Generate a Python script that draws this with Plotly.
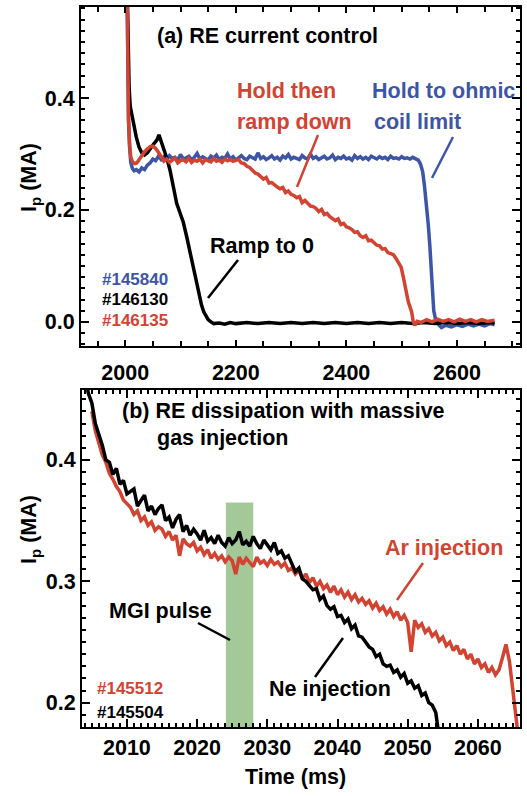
import plotly.graph_objects as go

# ---------------- data: panel (a) RE current control ----------------
# shot 145840 (blue): hold to ohmic coil limit
t_145840 = ([2003, 2004.5, 2006, 2008, 2010, 2013, 2016, 2020, 2025, 2030, 2035, 2040, 2045,
             2050, 2055, 2060, 2065]
            + [2070 + 5 * i for i in range(92)]
            + [2530, 2534, 2538, 2541, 2545, 2548, 2551, 2554, 2556, 2558, 2561, 2566, 2572,
               2580, 2590, 2600, 2610, 2620, 2630, 2640, 2650, 2660, 2668])
ip_145840 = ([0.62, 0.45, 0.36, 0.31, 0.285, 0.274, 0.270, 0.272, 0.268, 0.275, 0.272, 0.280,
              0.284, 0.291, 0.288, 0.296, 0.290]
             + [0.295, 0.290, 0.297, 0.292, 0.294, 0.289, 0.299, 0.291, 0.293, 0.296,
                0.290, 0.294, 0.301, 0.291, 0.295, 0.292, 0.289, 0.296, 0.293, 0.298,
                0.290, 0.294, 0.292, 0.300, 0.291, 0.295, 0.289, 0.293, 0.297, 0.292,
                0.290, 0.296, 0.294, 0.291, 0.302, 0.292, 0.295, 0.290, 0.293, 0.297,
                0.291, 0.294, 0.289, 0.296, 0.293, 0.299, 0.291, 0.294, 0.292, 0.290,
                0.297, 0.293, 0.291, 0.300, 0.292, 0.295, 0.290, 0.294, 0.296, 0.291,
                0.293, 0.298, 0.290, 0.294, 0.292, 0.296, 0.291, 0.293, 0.289, 0.297,
                0.292, 0.295, 0.291, 0.294, 0.290, 0.296, 0.293, 0.291, 0.295, 0.292,
                0.294, 0.290, 0.296, 0.292, 0.293, 0.291, 0.295, 0.292, 0.293, 0.291,
                0.294, 0.292]
             + [0.289, 0.282, 0.268, 0.245, 0.210, 0.175, 0.135, 0.090, 0.050, 0.020, 0.006,
                -0.004, -0.010, -0.006, -0.009, -0.005, -0.008, -0.004, -0.007, -0.004,
                -0.007, -0.003, -0.005])

# shot 146130 (black): ramp to 0
t_146130 = [2003, 2005, 2007, 2009, 2012, 2015, 2020, 2025, 2030, 2035, 2040, 2045, 2050, 2055,
            2058, 2061, 2064, 2068, 2072, 2076, 2081, 2087, 2093, 2099, 2105, 2111, 2117, 2123,
            2129, 2134, 2138, 2142, 2146, 2150, 2155, 2160, 2170, 2180, 2190, 2200, 2220, 2240,
            2260, 2280, 2300, 2320, 2340, 2360, 2380, 2400, 2420, 2440, 2460, 2480, 2500, 2520,
            2540, 2560, 2580, 2600, 2620, 2640, 2660, 2668]
ip_146130 = [0.62, 0.48, 0.42, 0.385, 0.365, 0.355, 0.330, 0.312, 0.302, 0.298, 0.302, 0.310,
             0.316, 0.322, 0.326, 0.334, 0.325, 0.318, 0.305, 0.290, 0.271, 0.240, 0.212, 0.195,
             0.178, 0.153, 0.125, 0.100, 0.075, 0.052, 0.030, 0.018, 0.010, 0.004, 0.000, -0.003,
             -0.002, -0.004, -0.001, -0.003, -0.001, -0.003, -0.001, -0.003, -0.001, -0.003,
             -0.001, -0.003, -0.001, -0.003, -0.001, -0.003, -0.001, -0.003, -0.001, -0.003,
             -0.001, -0.003, -0.001, -0.003, -0.001, -0.003, -0.001, -0.002]

# shot 146135 (red): hold then ramp down
t_146135 = ([2003, 2004.5, 2006, 2008, 2010, 2013, 2017, 2021, 2025, 2030, 2035, 2040, 2045,
             2050, 2055, 2060, 2065]
            + [2070 + 5 * i for i in range(86)]
            + [2499, 2503, 2506, 2509, 2512, 2515, 2518, 2521, 2524, 2528, 2535, 2545, 2555,
               2565, 2575, 2585, 2595, 2605, 2615, 2625, 2635, 2645, 2655, 2668])
ip_146135 = ([0.62, 0.46, 0.36, 0.315, 0.295, 0.286, 0.283, 0.284, 0.290, 0.297, 0.304, 0.309,
              0.313, 0.314, 0.310, 0.303, 0.294]
             + [0.287, 0.291, 0.285, 0.289, 0.293, 0.284, 0.288, 0.290, 0.286, 0.292,
                0.285, 0.289, 0.287, 0.291, 0.284, 0.290, 0.288, 0.286, 0.292, 0.287,
                0.289, 0.285, 0.291, 0.288, 0.290, 0.287, 0.289]
             + [0.290, 0.284, 0.283, 0.278, 0.276, 0.271, 0.266, 0.264, 0.259, 0.255,
                0.258, 0.248, 0.249, 0.244, 0.241, 0.238, 0.240, 0.231, 0.234, 0.228,
                0.226, 0.222, 0.224, 0.213, 0.217, 0.212, 0.207, 0.206, 0.203, 0.197,
                0.201, 0.192, 0.194, 0.188, 0.185, 0.181, 0.184, 0.174, 0.176, 0.170,
                0.168, 0.165, 0.160, 0.161, 0.154, 0.151, 0.154, 0.145, 0.146, 0.141,
                0.137, 0.136, 0.130, 0.131, 0.124, 0.122, 0.120, 0.113, 0.106]
             + [0.098, 0.080, 0.062, 0.050, 0.036, 0.029, 0.018, 0.000, -0.006, 0.001, -0.001,
                0.004, 0.000, 0.005, 0.001, 0.004, 0.000, 0.005, 0.001, 0.004, 0.000, 0.004,
                0.001, 0.003])

# ---------------- data: panel (b) RE dissipation with MGI ----------------
# shot 145504 (black): Ne injection, samples every 0.5 ms from 2004.0
t_145504 = [2004.0 + 0.5 * i for i in range(103)]
ip_145504 = [0.470, 0.455, 0.447, 0.430, 0.421, 0.412, 0.400, 0.398, 0.388, 0.393, 0.380, 0.383,
             0.372, 0.374, 0.376, 0.362, 0.366, 0.371, 0.358, 0.362, 0.355, 0.360, 0.363, 0.350,
             0.353, 0.344, 0.351, 0.355, 0.341, 0.346, 0.338, 0.343, 0.339, 0.334, 0.342, 0.333,
             0.336, 0.331, 0.338, 0.332, 0.329, 0.336, 0.331, 0.334, 0.341, 0.330, 0.333, 0.329,
             0.337, 0.331, 0.327, 0.334, 0.330, 0.326, 0.332, 0.323, 0.325, 0.319, 0.321, 0.314,
             0.308, 0.311, 0.302, 0.300, 0.296, 0.293, 0.294, 0.285, 0.288, 0.280, 0.277, 0.279,
             0.271, 0.272, 0.266, 0.269, 0.261, 0.264, 0.255, 0.254, 0.250, 0.246, 0.244, 0.238,
             0.240, 0.232, 0.230, 0.231, 0.225, 0.227, 0.221, 0.224, 0.216, 0.218, 0.212, 0.214,
             0.206, 0.208, 0.200, 0.198, 0.192, 0.170, 0.150]

# shot 145512 (red): Ar injection, samples every 0.5 ms from 2005.0
t_145512 = [2005.0 + 0.5 * i for i in range(123)]
ip_145512 = [0.440, 0.424, 0.414, 0.404, 0.398, 0.389, 0.384, 0.378, 0.374, 0.367, 0.364, 0.361,
             0.355, 0.358, 0.350, 0.353, 0.346, 0.349, 0.342, 0.345, 0.343, 0.337, 0.341, 0.334,
             0.338, 0.321, 0.335, 0.331, 0.329, 0.332, 0.325, 0.328, 0.322, 0.326, 0.319, 0.323,
             0.318, 0.321, 0.316, 0.320, 0.317, 0.306, 0.320, 0.314, 0.319, 0.316, 0.312, 0.320,
             0.315, 0.317, 0.313, 0.318, 0.314, 0.316, 0.312, 0.315, 0.309, 0.311, 0.306, 0.309,
             0.302, 0.306, 0.299, 0.303, 0.296, 0.300, 0.294, 0.297, 0.291, 0.296, 0.289, 0.293,
             0.287, 0.291, 0.285, 0.289, 0.283, 0.286, 0.281, 0.284, 0.278, 0.282, 0.276, 0.279,
             0.273, 0.277, 0.271, 0.275, 0.268, 0.272, 0.266, 0.242, 0.268, 0.262, 0.265, 0.258,
             0.261, 0.255, 0.258, 0.251, 0.254, 0.247, 0.250, 0.243, 0.247, 0.240, 0.244, 0.236,
             0.240, 0.232, 0.236, 0.229, 0.232, 0.225, 0.229, 0.223, 0.227, 0.237, 0.248, 0.234,
             0.206, 0.180, 0.160]

mgi_pulse_t = [2024.1, 2028.0]
mgi_pulse_top = 0.365

RED = "#d24331"
BLUE = "#3d55a6"
BLACK = "#000000"
GREEN = "#a3c999"
FONT = "Liberation Sans, Arial, Helvetica, sans-serif"
W, H = 527, 796
TS = 21.5


def px(x):
    return x / W


def py(y):
    return 1 - y / H


fig = go.Figure()
LW = 3.5
fig.add_trace(go.Scatter(x=t_145840, y=ip_145840, mode="lines", line=dict(color=BLUE, width=LW),
                         xaxis="x", yaxis="y", showlegend=False))
fig.add_trace(go.Scatter(x=t_146130, y=ip_146130, mode="lines", line=dict(color=BLACK, width=LW),
                         xaxis="x", yaxis="y", showlegend=False))
fig.add_trace(go.Scatter(x=t_146135, y=ip_146135, mode="lines", line=dict(color=RED, width=LW),
                         xaxis="x", yaxis="y", showlegend=False))
fig.add_trace(go.Scatter(x=t_145512, y=ip_145512, mode="lines", line=dict(color=RED, width=LW),
                         xaxis="x2", yaxis="y2", showlegend=False))
fig.add_trace(go.Scatter(x=t_145504, y=ip_145504, mode="lines", line=dict(color=BLACK, width=LW),
                         xaxis="x2", yaxis="y2", showlegend=False))

tickfont = dict(family=FONT, size=TS, color="black", weight="bold")
common = dict(showline=True, linewidth=2, linecolor="black", mirror="ticks", ticks="inside",
              tickwidth=1.5, tickcolor="black", showgrid=False, zeroline=False, tickfont=tickfont)

fig.update_layout(
    width=W, height=H,
    margin=dict(l=0, r=0, t=0, b=0),
    paper_bgcolor="white", plot_bgcolor="white",
    showlegend=False,
    xaxis=dict(domain=[px(81), px(520)], range=[1920, 2714], anchor="y",
               tickmode="linear", tick0=2000, dtick=200, ticklen=6, ticklabelstandoff=6,
               minor=dict(dtick=50, tick0=2000, ticklen=5, ticks="inside", tickcolor="black"),
               **common),
    yaxis=dict(domain=[py(346), py(7)], range=[-0.043, 0.5625], anchor="x",
               tickmode="array", tickvals=[0.0, 0.2, 0.4], ticktext=["0.0", "0.2", "0.4"],
               ticklen=8,
               minor=dict(dtick=0.02, tick0=0, ticklen=4, ticks="inside", tickcolor="black"),
               **common),
    yaxis3=dict(domain=[py(346), py(7)], range=[-0.043, 0.5625], anchor="x", overlaying="y",
                tickmode="array", tickvals=[0.1, 0.3, 0.5], showticklabels=False,
                ticks="inside", ticklen=8, tickwidth=1.5, tickcolor="black", mirror="ticks",
                showline=False, showgrid=False, zeroline=False),
    xaxis2=dict(domain=[px(82), px(520)], range=[2003.6, 2066], anchor="y2",
                tickmode="linear", tick0=2010, dtick=10, ticklen=8,
                minor=dict(dtick=1, tick0=2010, ticklen=4, ticks="inside", tickcolor="black"),
                **common),
    yaxis2=dict(domain=[py(727), py(390)], range=[0.18, 0.4576], anchor="x2",
                tickmode="array", tickvals=[0.2, 0.3, 0.4], ticktext=["0.2", "0.3", "0.4"],
                ticklen=8,
                minor=dict(dtick=0.01, tick0=0.2, ticklen=4, ticks="inside", tickcolor="black"),
                **common),
)

fig.add_shape(type="rect", xref="x2", yref="y2", x0=mgi_pulse_t[0], x1=mgi_pulse_t[1],
              y0=0.18, y1=mgi_pulse_top, fillcolor=GREEN, line=dict(width=0), layer="below")

annotations = []


def ann(text, x, y, color=BLACK, size=TS, xanchor="left", angle=0):
    annotations.append(dict(text=f"<b>{text}</b>", x=px(x), y=py(y), xref="paper", yref="paper",
                            xanchor=xanchor, yanchor="middle", showarrow=False, textangle=angle,
                            font=dict(family=FONT, size=size, color=color)))


ann("(a) RE current control", 155, 36)
ann("Hold then", 235, 91, RED)
ann("ramp down", 235, 122, RED)
ann("Hold to ohmic", 370, 91, BLUE)
ann("coil limit", 372, 122, BLUE)
ann("Ramp to 0", 208, 246)
ann("#145840", 100, 279, BLUE, 17)
ann("#146130", 100, 299, BLACK, 17)
ann("#146135", 100, 320, RED, 17)
ann("I<sub>p</sub> (MA)", 30, 178, xanchor="center", angle=-90)

ann("(b) RE dissipation with massive", 120, 411)
ann("gas injection", 155, 438)
ann("Ar injection", 383, 548, RED)
ann("MGI pulse", 107, 611)
ann("Ne injection", 267, 689)
ann("#145512", 95, 688, RED, 17)
ann("#145504", 95, 712, BLACK, 17)
ann("I<sub>p</sub> (MA)", 30, 530, xanchor="center", angle=-90)
ann("Time (ms)", 295, 777, xanchor="center")

fig.update_layout(annotations=annotations)


def seg(x0, y0, x1, y1, color):
    fig.add_shape(type="line", xref="paper", yref="paper", x0=px(x0), y0=py(y0), x1=px(x1),
                  y1=py(y1), line=dict(color=color, width=2.5))


seg(318, 135, 297, 187, RED)
seg(453, 137, 432, 178, BLUE)
seg(238, 260, 208, 298, BLACK)
seg(423, 563, 397, 600, RED)
seg(198, 623, 230, 640, BLACK)
seg(343, 638, 315, 677, BLACK)

fig.write_html("out.html")
